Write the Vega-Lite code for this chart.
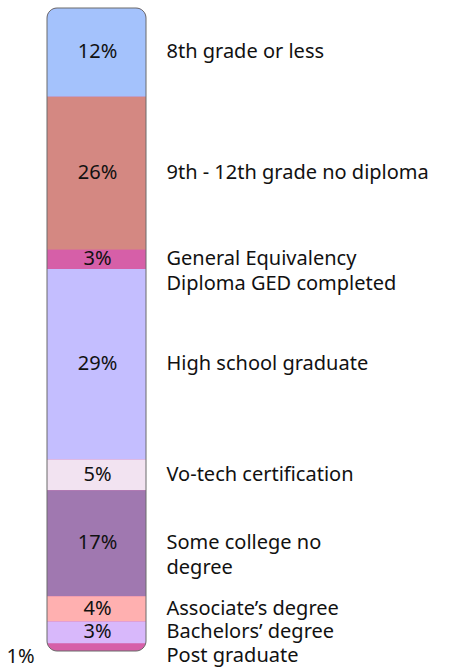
{
  "$schema": "https://vega.github.io/schema/vega-lite/v6.json",
  "width": 193,
  "height": 643,
  "autosize": {"type": "none"},
  "padding": {"left": 0, "top": 8, "right": 256, "bottom": 18},
  "background": "white",
  "config": {"view": {"stroke": null}, "font": "Noto Sans"},
  "data": {
    "values": [
      {"order": 1, "category": "8th grade or less", "share": 13.8, "label": "12%"},
      {"order": 2, "category": "9th - 12th grade no diploma", "share": 23.8, "label": "26%"},
      {"order": 3, "category": "General Equivalency\nDiploma GED completed", "share": 3.0, "label": "3%"},
      {"order": 4, "category": "High school graduate", "share": 29.6, "label": "29%"},
      {"order": 5, "category": "Vo-tech certification", "share": 4.8, "label": "5%"},
      {"order": 6, "category": "Some college no\ndegree", "share": 16.5, "label": "17%"},
      {"order": 7, "category": "Associate’s degree", "share": 3.9, "label": "4%"},
      {"order": 8, "category": "Bachelors’ degree", "share": 3.4, "label": "3%"},
      {"order": 9, "category": "Post graduate", "share": 1.2, "label": "1%"}
    ]
  },
  "transform": [
    {"stack": "share", "groupby": [], "sort": [{"field": "order", "order": "ascending"}], "as": ["start", "end"]},
    {"calculate": "(datum.start + datum.end) / 2", "as": "mid"}
  ],
  "encoding": {
    "x": {"datum": "bar", "type": "nominal", "axis": null, "scale": {"paddingInner": 0, "paddingOuter": 0}}
  },
  "layer": [
    {
      "transform": [{"filter": "datum.order == 9"}],
      "mark": {"type": "bar", "width": 99, "cornerRadius": 10},
      "encoding": {
        "y": {"field": "end", "type": "quantitative", "axis": null, "scale": {"domain": [0, 100], "reverse": true, "nice": false, "zero": false}},
        "y2": {"datum": 0},
        "color": {"field": "category", "type": "nominal", "legend": null,
          "scale": {
            "domain": ["8th grade or less", "9th - 12th grade no diploma", "General Equivalency\nDiploma GED completed", "High school graduate", "Vo-tech certification", "Some college no\ndegree", "Associate’s degree", "Bachelors’ degree", "Post graduate"],
            "range": ["#a4c2fc", "#d48882", "#d65fa8", "#c4beff", "#f2e3f1", "#a078b0", "#ffb0b0", "#d8b8fb", "#d65fa8"]
          }}
      }
    },
    {
      "transform": [{"filter": "datum.order == 1"}],
      "mark": {"type": "bar", "width": 99, "cornerRadiusTopLeft": 10, "cornerRadiusTopRight": 10},
      "encoding": {
        "y": {"field": "start", "type": "quantitative"},
        "y2": {"field": "end"},
        "color": {"field": "category", "type": "nominal", "legend": null}
      }
    },
    {
      "transform": [{"filter": "datum.order > 1 && datum.order < 9"}],
      "mark": {"type": "bar", "width": 99},
      "encoding": {
        "y": {"field": "start", "type": "quantitative"},
        "y2": {"field": "end"},
        "color": {"field": "category", "type": "nominal", "legend": null}
      }
    },
    {
      "transform": [{"filter": "datum.order == 9"}],
      "mark": {"type": "bar", "width": 99, "cornerRadius": 10, "fill": null, "fillOpacity": 0, "stroke": "#6a6a6a", "strokeWidth": 1},
      "encoding": {
        "y": {"field": "end", "type": "quantitative"},
        "y2": {"datum": 0}
      }
    },
    {
      "transform": [{"filter": "datum.share >= 2"}],
      "mark": {"type": "text", "align": "center", "baseline": "middle", "fontSize": 20, "color": "#111111", "dx": 1},
      "encoding": {
        "y": {"field": "mid", "type": "quantitative"},
        "text": {"field": "label"}
      }
    },
    {
      "transform": [{"filter": "datum.share < 2"}],
      "mark": {"type": "text", "align": "center", "baseline": "middle", "fontSize": 20, "color": "#111111", "dx": -76, "dy": 10},
      "encoding": {
        "y": {"field": "mid", "type": "quantitative"},
        "text": {"field": "label"}
      }
    },
    {
      "transform": [{"filter": "datum.order != 9"}],
      "mark": {"type": "text", "align": "left", "baseline": "middle", "fontSize": 20, "color": "#111111", "dx": 70, "lineBreak": "\n", "lineHeight": 25},
      "encoding": {
        "y": {"field": "mid", "type": "quantitative"},
        "text": {"field": "category"}
      }
    },
    {
      "transform": [{"filter": "datum.order == 9"}],
      "mark": {"type": "text", "align": "left", "baseline": "middle", "fontSize": 20, "color": "#111111", "dx": 70, "dy": 9},
      "encoding": {
        "y": {"field": "mid", "type": "quantitative"},
        "text": {"field": "category"}
      }
    }
  ]
}
